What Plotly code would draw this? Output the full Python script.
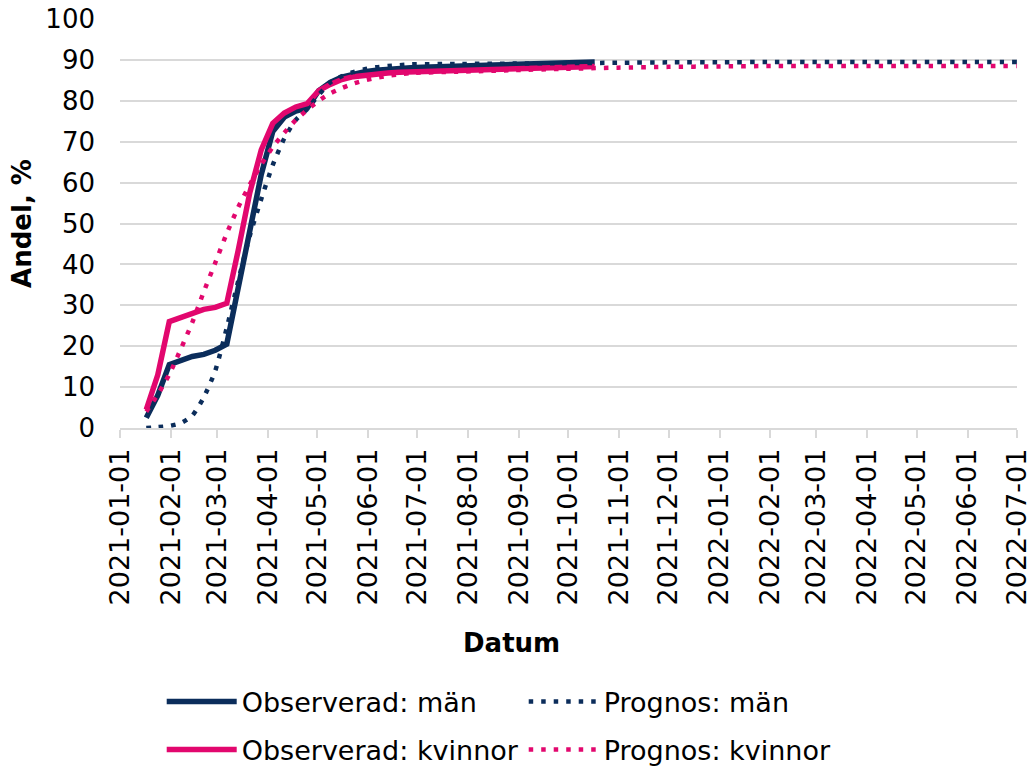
import plotly.graph_objects as go

# Observed weekly coverage (share, %)
obs_dates = [
    "2021-01-17", "2021-01-24", "2021-01-31", "2021-02-07", "2021-02-14", "2021-02-21",
    "2021-02-28", "2021-03-07", "2021-03-14", "2021-03-21", "2021-03-28", "2021-04-04",
    "2021-04-11", "2021-04-18", "2021-04-25", "2021-05-02", "2021-05-09", "2021-05-16",
    "2021-05-23", "2021-05-30", "2021-06-06", "2021-06-13", "2021-06-20", "2021-06-27",
    "2021-07-04", "2021-07-11", "2021-07-18", "2021-07-25", "2021-08-01", "2021-08-08",
    "2021-08-15", "2021-08-22", "2021-08-29", "2021-09-05", "2021-09-12", "2021-09-19",
    "2021-09-26", "2021-10-03", "2021-10-10", "2021-10-17",
]
obs_man = [
    2.5, 8.0, 15.5, 16.5, 17.5, 18.0, 19.0, 20.5, 34.0, 47.0, 62.0, 72.5,
    76.0, 77.5, 78.2, 82.5, 84.5, 85.8, 86.6, 87.1, 87.5, 87.8, 88.0, 88.1,
    88.2, 88.3, 88.4, 88.5, 88.6, 88.7, 88.8, 88.9, 89.0, 89.1, 89.15, 89.2,
    89.3, 89.35, 89.4, 89.5,
]
obs_kvinna = [
    4.5, 13.0, 26.0, 27.0, 28.0, 29.0, 29.5, 30.5, 43.5, 57.5, 68.0, 74.5,
    77.0, 78.5, 79.3, 82.5, 84.0, 85.2, 85.9, 86.3, 86.6, 86.8, 87.0, 87.1,
    87.2, 87.3, 87.35, 87.4, 87.5, 87.55, 87.6, 87.7, 87.75, 87.8, 87.9, 88.0,
    88.1, 88.2, 88.3, 88.4,
]

# Forecast (share, %)
prog_dates = [
    "2021-01-17", "2021-01-24", "2021-01-31", "2021-02-07", "2021-02-14", "2021-02-21",
    "2021-02-28", "2021-03-07", "2021-03-14", "2021-03-21", "2021-03-28", "2021-04-04",
    "2021-04-11", "2021-04-18", "2021-04-25", "2021-05-02", "2021-05-09", "2021-05-16",
    "2021-05-23", "2021-05-30", "2021-06-06", "2021-06-13", "2021-06-20", "2021-06-27",
    "2021-07-25", "2021-08-29", "2021-09-26", "2021-10-31", "2021-12-01", "2022-01-01",
    "2022-02-01", "2022-03-01", "2022-04-01", "2022-05-01", "2022-06-01", "2022-07-01",
]
prog_man = [
    0.0, 0.2, 0.5, 1.2, 3.0, 7.5, 14.0, 24.5, 36.0, 47.0, 56.0, 64.3,
    70.8, 75.3, 78.0, 81.5, 84.5, 86.0, 87.0, 87.7, 88.2, 88.5, 88.7, 88.9,
    89.0, 89.1, 89.2, 89.3, 89.4, 89.4, 89.5, 89.5, 89.5, 89.5, 89.5, 89.5,
]
prog_kvinna = [
    4.0, 8.2, 13.1, 19.3, 25.8, 33.3, 40.4, 47.6, 54.0, 59.5, 64.4, 68.7,
    72.2, 75.3, 77.8, 80.0, 81.8, 83.1, 84.2, 85.0, 85.6, 86.1, 86.5, 86.8,
    87.1, 87.5, 87.8, 88.1, 88.3, 88.4, 88.5, 88.5, 88.5, 88.5, 88.5, 88.5,
]

NAVY = "#0b2d5b"
PINK = "#e2076e"
GRID = "#d9d9d9"
FONT = "DejaVu Sans"

fig = go.Figure()
fig.add_trace(go.Scatter(x=obs_dates, y=obs_man, mode="lines", name="Observerad: män",
                         line=dict(color=NAVY, width=5.5), legend="legend"))
fig.add_trace(go.Scatter(x=obs_dates, y=obs_kvinna, mode="lines", name="Observerad: kvinnor",
                         line=dict(color=PINK, width=5.5), legend="legend2"))
fig.add_trace(go.Scatter(x=prog_dates, y=prog_man, mode="lines", name="Prognos: män",
                         line=dict(color=NAVY, width=4.5, dash="4.5px,8px", shape="spline", smoothing=0.6),
                         legend="legend"))
fig.add_trace(go.Scatter(x=prog_dates, y=prog_kvinna, mode="lines", name="Prognos: kvinnor",
                         line=dict(color=PINK, width=4.5, dash="4.5px,8px", shape="spline", smoothing=0.6),
                         legend="legend2"))

legend_common = dict(
    orientation="h", xanchor="left", yanchor="middle", x=0.0465,
    xref="paper", yref="container",
    font=dict(family=FONT, size=27, color="#000000"),
    itemwidth=70, entrywidth=277, bgcolor="rgba(0,0,0,0)", traceorder="normal",
)

fig.update_layout(
    width=1027, height=766,
    margin=dict(l=120, r=10, t=19, b=338, autoexpand=False),
    paper_bgcolor="white", plot_bgcolor="white",
    font=dict(family=FONT, size=26, color="#000000"),
    legend=dict(y=1 - 702 / 766, **legend_common),
    legend2=dict(y=1 - 750 / 766, **legend_common),
    xaxis=dict(
        type="date", range=["2021-01-01", "2022-07-01 02:00"],
        tick0="2021-01-01", dtick="M1", tickformat="%Y-%m-%d", tickangle=-90,
        showgrid=False, showline=True, linecolor=GRID, linewidth=1.5,
        ticks="outside", ticklen=8, tickcolor=GRID, tickwidth=1.5,
        tickfont=dict(family=FONT, size=27, color="#000000"),
        ticklabeloverflow="allow",
        zeroline=False, automargin=False,
    ),
    yaxis=dict(
        range=[0, 100], dtick=10, showgrid=True, gridcolor=GRID, gridwidth=1.5,
        zeroline=False, showline=False, ticks="", ticklabelstandoff=24,
        tickfont=dict(family=FONT, size=26, color="#000000"), automargin=False,
        title=dict(text="Andel, %", font=dict(family=FONT, size=26, weight="bold"), standoff=6),
    ),
    annotations=[dict(
        text="Datum", xref="paper", yref="paper", x=0.437, y=-0.5257,
        xanchor="center", yanchor="middle", showarrow=False,
        font=dict(family=FONT, size=26, weight="bold", color="#000000"),
    )],
)

fig.write_html("out.html")
